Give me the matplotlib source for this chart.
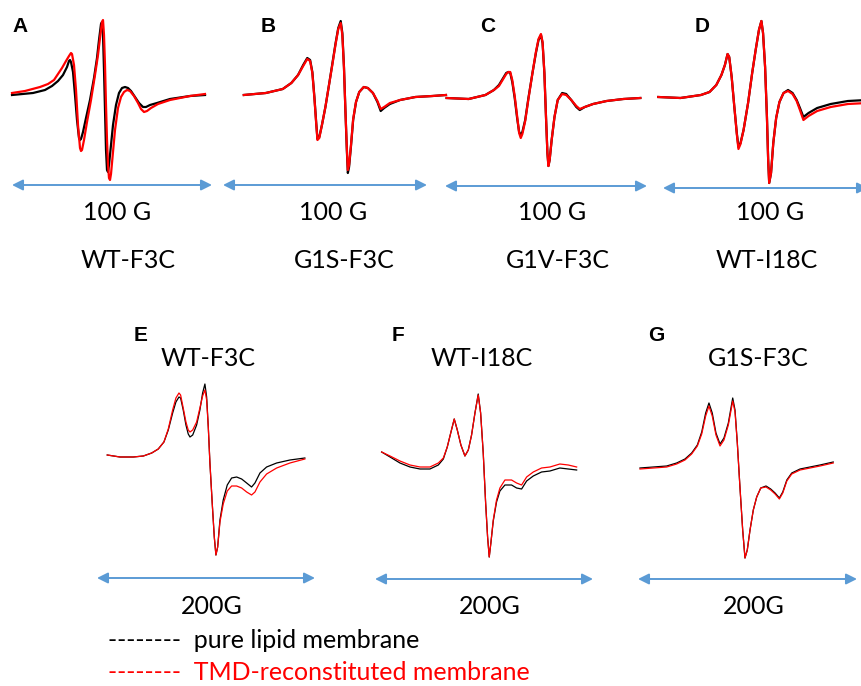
import matplotlib
matplotlib.use("Agg")
import matplotlib.pyplot as plt

W, H = 862, 686
plt.rcParams['font.family'] = ['Lato', 'DejaVu Sans']

# ---- spectra (field offset in G, amplitude in a.u.) ----
# top row, 100 G sweep
A_x_black = [0, 10.5, 16.5, 20, 23, 25.5, 27.5, 28.5, 29, 29.5, 30.5, 31.5, 32.5, 33.5, 34, 34.5, 35.5, 37, 39, 41,
             42.5, 43.5, 44.5, 45, 45.5, 46, 46.5, 47, 47.5, 48, 48.5, 49.5, 50.5, 52, 53.5, 55, 56.5, 58, 59.5, 61.5,
             63.5, 65.5, 67, 69, 72.5, 79, 89, 96.5]
A_y_black = [0, 2, 5, 9, 14, 20, 28, 34, 35, 33, 23, 0, -25, -43, -45, -44, -37, -23, -5, 17,
             37, 55, 71, 73, 60, 25, -15, -55, -75, -77, -70, -50, -30, -10, 2, 7, 8, 7, 4, -2,
             -8, -12, -12, -10, -8, -4, -1, 0]
A_x_red = [0, 6.5, 14, 18, 21, 23, 25, 27, 28.5, 29.5, 30, 31, 32, 33, 34, 34.5, 35, 36, 37.5, 39.5,
           41.5, 43, 44, 45, 45.5, 46, 46.5, 47, 47.5, 48, 48.5, 49, 49.5, 50.5, 51.5, 53, 54.5, 56, 57.5, 59,
           61, 63, 64.5, 66, 67.5, 69.5, 73, 79, 89, 96.5]
A_y_red = [2, 4, 8, 11, 15, 21, 27, 34, 39, 42, 41, 30, 5, -30, -53, -56, -55, -45, -27, -5,
           20, 40, 57, 73, 75, 60, 30, -10, -45, -70, -83, -85, -79, -57, -35, -13, -2, 3, 5, 4,
           -1, -8, -14, -17, -16, -13, -9, -5, -1, 1]

B_x = [10.2, 21, 29.3, 33.5, 36.8, 39.3, 41.3, 42.7, 43.8, 44.8, 45.7, 46.3, 47.2, 48.5, 50.2, 51.8, 53.5, 55.2,
       56.5, 57.7, 58.5, 59.3, 60, 60.7, 61.2, 61.8, 62.7, 63.8, 65.2, 66.8, 69, 71, 73.5, 75.7, 77.3, 79, 81.8,
       86.8, 94.3, 102.7, 109.3]
B_y_black = [0, 2, 6, 12, 20, 30, 37, 35, 23, -2, -28, -44, -42, -30, -12, 8, 30, 52, 67, 74, 62, 28, -15, -55,
             -78, -72, -52, -25, -7, 3, 8, 7, 2, -7, -16, -13, -9, -5, -2, -1, 0]
B_y_red = [0, 2, 6, 12, 20, 29, 36, 34, 22, -3, -29, -45, -43, -30, -12, 8, 29, 51, 66, 72, 60, 27, -15, -53,
           -75, -70, -51, -24, -7, 3, 8, 7, 2, -6, -14, -12, -8, -5, -2, -1, 0]

C_x = [0.8, 11.7, 20, 24.2, 26.7, 28.8, 30.3, 31.3, 32.3, 33.3, 34.5, 35.7, 36.7, 37.5, 38.3, 39.7, 41.3, 43.3,
       45, 46.3, 47.5, 48.3, 49.2, 50, 50.7, 51.2, 51.8, 52.8, 54.2, 55.8, 58, 60, 62.5, 65, 66.7, 69.2, 73.3,
       80, 88.3, 96.7]
C_y_black = [0, -1, 3, 8, 13, 20, 25, 26, 25, 16, 0, -20, -34, -37, -34, -22, 0, 25, 45, 58, 63, 55, 25, -19,
             -55, -68, -62, -42, -19, -2, 5, 4, -2, -9, -12, -9, -6, -3, -1, 0]
C_y_red = [0, -1, 3, 8, 12, 19, 24, 26, 26, 18, 2, -18, -35, -40, -36, -23, -1, 25, 46, 59, 64, 56, 25, -19,
           -55, -68, -62, -42, -19, -2, 4, 3, -2, -8, -11, -9, -6, -3, -1, 0]

D_x = [-2.3, 8.5, 18.5, 22.7, 26, 28.5, 30.2, 31.5, 32.3, 33.5, 34.8, 36, 36.8, 37.8, 39.3, 41.5, 43.5, 45.2,
       46.8, 48, 48.8, 49.8, 50.7, 51.3, 51.8, 52.7, 53.8, 55.2, 56.8, 58.8, 61, 63.2, 65.2, 66.8, 68.5, 71, 75.2,
       81.8, 90.2, 99.5]
D_y_black = [0, -1, 2, 5, 12, 22, 32, 43, 40, 20, -10, -36, -50, -46, -33, -6, 24, 47, 67, 76, 64, 30, -20, -63,
             -86, -76, -46, -21, -5, 4, 7, 4, -3, -11, -20, -16, -11, -7, -4, -3]
D_y_red = [0, -1, 2, 5, 12, 22, 32, 43, 40, 20, -10, -37, -52, -47, -33, -6, 24, 47, 67, 76, 64, 30, -20, -63,
           -86, -76, -46, -21, -5, 4, 6, 3, -4, -13, -23, -19, -14, -10, -7, -6]

# bottom row, 200 G sweep
E_x = [9.4, 21.1, 33.3, 42.5, 50.2, 56.2, 61.4, 65.4, 69.4, 72.4, 75.2, 76.7, 79.1, 81.6, 83.7, 85.3, 87.8, 91.4,
       94.4, 96.9, 99, 100.6, 102.1, 103.6, 105.7, 107.6, 109.1, 110.7, 112.8, 115.8, 119.5, 123.5, 128.1, 132.7,
       137.3, 141.8, 144.9, 149.5, 155.6, 164.8, 177, 190.7]
E_y_black = [1, -1, -1, 0, 3, 7, 14, 26, 43, 54, 59, 58, 46, 31, 22, 19, 21, 31, 46, 63, 72, 59, 29, -7, -47, -81,
             -99, -91, -64, -44, -29, -22, -21, -23, -27, -31, -27, -17, -11, -7, -4, -2]
E_y_red = [1, -1, -1, 0, 3, 7, 14, 27, 46, 58, 63, 61, 48, 34, 26, 24, 26, 34, 48, 60, 66, 56, 29, -7, -47, -81,
           -99, -91, -66, -48, -35, -30, -30, -32, -36, -39, -36, -26, -18, -12, -7, -3]

F_x = [6.1, 13.8, 22.9, 32.1, 41.3, 50.4, 58.1, 62.7, 66.3, 69.7, 72.7, 75.5, 78.8, 82.5, 85.6, 88.6, 91.7, 94.7,
       96.9, 99.3, 101.5, 103.3, 104.8, 106.3, 108.5, 111.5, 114.6, 119.2, 125.3, 129.9, 134.5, 139.1, 145.2,
       152.8, 160.5, 169.6, 177.3, 185]
F_y_black = [8, 3, -3, -7, -9, -9, -5, 1, 13, 28, 41, 30, 15, 4, 10, 25, 47, 66, 47, 7, -43, -77, -97, -83, -61,
             -42, -31, -25, -25, -28, -29, -21, -16, -12, -11, -8, -9, -10]
F_y_red = [8, 4, -1, -5, -7, -7, -3, 2, 13, 28, 41, 30, 15, 4, 10, 25, 47, 65, 47, 7, -43, -77, -97, -83, -60,
           -40, -28, -20, -20, -23, -25, -17, -12, -8, -7, -4, -5, -7]

G_x = [1.8, 14, 26.2, 35.3, 42.9, 49, 54.2, 58.2, 61.8, 64.8, 67.8, 71.2, 74.9, 78.5, 82.5, 86.5, 88.6, 90.7,
       93.1, 95.6, 97.7, 99.8, 102.3, 105.3, 108.4, 112.1, 116.9, 121.2, 125.2, 129.1, 132.2, 135.9, 140.4, 148,
       157.1, 166.2, 178.3]
G_y_black = [-2, -1, 0, 3, 7, 13, 21, 34, 53, 63, 53, 33, 22, 28, 43, 68, 56, 23, -21, -64, -92, -84, -64, -44,
             -31, -22, -20, -23, -27, -32, -26, -14, -7, -3, -1, 1, 4]
G_y_red = [-3, -2, -1, 2, 6, 12, 20, 32, 50, 60, 50, 31, 20, 26, 41, 65, 54, 23, -21, -64, -92, -84, -64, -44,
           -31, -22, -21, -24, -28, -33, -27, -15, -8, -4, -2, 0, 3]

letters = ["A", "B", "C", "D", "E", "F", "G"]
samples = ["WT-F3C", "G1S-F3C", "G1V-F3C", "WT-I18C", "WT-F3C", "WT-I18C", "G1S-F3C"]
sweeps = [100, 100, 100, 100, 200, 200, 200]
sweep_labels = ["100 G", "100 G", "100 G", "100 G", "200G", "200G", "200G"]
legend_labels = ["pure lipid membrane", "TMD-reconstituted membrane"]

# ---- layout in pixels ----
# (arrow left, arrow right, arrow y, baseline y, row top, row bottom, lw)
panels = [
    (12, 212, 185, 95, 0, 200, 1.6),
    (223, 427, 185, 95, 0, 200, 1.6),
    (445, 647, 186, 98, 0, 200, 1.6),
    (663, 868, 188, 97, 0, 200, 1.6),
    (97, 315, 578, 456, 370, 600, 0.9),
    (375, 593, 579, 460, 370, 600, 0.9),
    (638, 857, 579, 466, 370, 600, 0.9),
]
curves = [
    (A_x_black, A_y_black, A_x_red, A_y_red),
    (B_x, B_y_black, B_x, B_y_red),
    (C_x, C_y_black, C_x, C_y_red),
    (D_x, D_y_black, D_x, D_y_red),
    (E_x, E_y_black, E_x, E_y_red),
    (F_x, F_y_black, F_x, F_y_red),
    (G_x, G_y_black, G_x, G_y_red),
]
letter_pos = [(20, 27), (268, 26), (488, 26), (702, 26), (141, 335), (398, 335), (656, 335)]
sample_pos = [(128, 260), (344, 260), (558, 260), (767, 260), (208, 359), (482, 359), (758, 359)]
sweep_pos = [(117, 212), (333, 212), (552, 212), (770, 212), (212, 606), (490, 606), (754, 606)]

fig = plt.figure(figsize=(W / 100, H / 100), dpi=100)


def ftext(x, y, s, **kw):
    fig.text(x / W, 1 - y / H, s, ha=kw.pop("ha", "center"), va=kw.pop("va", "center"), **kw)


arrow_col = "#5B9BD5"
for i, (l, r, ay, base, top, bot, lw) in enumerate(panels):
    ax = fig.add_axes([l / W, 1 - bot / H, (r - l) / W, (bot - top) / H])
    ax.set_xlim(0, sweeps[i])
    ax.set_ylim(base - bot, base - top)
    ax.axis("off")
    xb, yb, xr, yr = curves[i]
    ax.plot(xb, yb, color="black", lw=lw, clip_on=False, solid_joinstyle="round")
    ax.plot(xr, yr, color="red", lw=lw, clip_on=False, solid_joinstyle="round")
    ax.annotate("", xy=(0, base - ay), xytext=(sweeps[i], base - ay),
                arrowprops=dict(arrowstyle="<|-|>", color=arrow_col, lw=1.4,
                                mutation_scale=16, shrinkA=0, shrinkB=0))

    ftext(*letter_pos[i], letters[i], fontsize=15, fontweight="bold",
          family="Liberation Sans")
    ftext(*sample_pos[i], samples[i], fontsize=18)
    ftext(*sweep_pos[i], sweep_labels[i], fontsize=18)

ftext(108, 640, "--------  " + legend_labels[0], fontsize=18, ha="left", color="black")
ftext(108, 672, "--------  " + legend_labels[1], fontsize=18, ha="left", color="red")

fig.savefig("out.png", dpi=100)
